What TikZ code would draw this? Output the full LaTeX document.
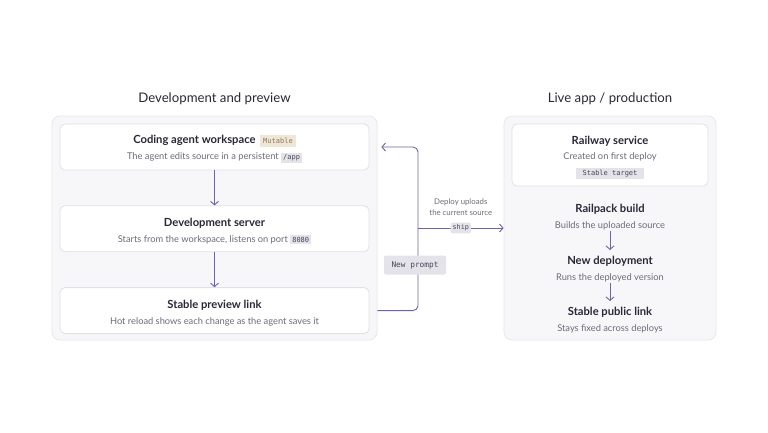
\documentclass[tikz,border=0pt]{standalone}
\usepackage{fontspec}
\setmainfont{Lato}
\setmonofont{DejaVu Sans Mono}
\usepackage{tikz}
\usetikzlibrary{arrows.meta, positioning, calc}
\definecolor{flowpurple}{RGB}{114,96,170}
\definecolor{inktext}{RGB}{40,40,55}
\definecolor{mutedtext}{RGB}{108,108,120}
\definecolor{panelfill}{RGB}{247,247,250}
\definecolor{panelline}{RGB}{230,230,236}
\definecolor{cardline}{RGB}{224,224,230}
\definecolor{codefill}{RGB}{228,227,234}
\definecolor{codetext}{RGB}{70,70,88}
\definecolor{mutfill}{RGB}{239,230,214}
\definecolor{muttext}{RGB}{140,120,90}

\newcommand{\cardtitle}[1]{{\rule{0pt}{13pt}\bfseries\fontsize{11.2}{12}\selectfont\color{inktext}#1}}
\newcommand{\cardsub}[1]{{\fontsize{9.3}{12}\selectfont\color{mutedtext}#1}}
\newcommand{\codechip}[1]{{\setlength{\fboxsep}{2pt}\colorbox{codefill}{\ttfamily\fontsize{7}{7}\selectfont\color{codetext}#1}}}
\newcommand{\mutechip}[1]{{\setlength{\fboxsep}{3pt}\colorbox{mutfill}{\ttfamily\fontsize{7}{7}\selectfont\color{muttext}#1}}}

\begin{document}
\begin{tikzpicture}[x=1pt, y=-1pt,
        panel/.style={draw=panelline, fill=panelfill, rounded corners=8pt, line width=0.8pt},
        card/.style={draw=cardline, fill=white, rounded corners=5pt, line width=0.8pt, align=center, minimum width=309pt, minimum height=46pt, inner sep=0pt, font=\fontsize{9.3}{12}\selectfont},
        stepnode/.style={align=center, inner sep=1pt, font=\fontsize{9.3}{12}\selectfont},
        heading/.style={font=\fontsize{13.2}{15}\selectfont, text=inktext},
        chip/.style={fill=codefill, rounded corners=2pt, font=\ttfamily\fontsize{6.8}{8}\selectfont, text=codetext, inner sep=2.5pt},
        arrow/.style={-{Straight Barb[length=3.5pt, width=8pt]}, line width=0.9pt, flowpurple}
    ]
    \useasboundingbox (0,0) rectangle (768,432);

    \node[panel, minimum width=325pt, minimum height=224pt] (devbox) at (214.5,228) {};
    \node[panel, minimum width=212pt, minimum height=224pt] (livebox) at (610,228) {};
    \node[heading] (devtitle) at (214.5,99) {Development and preview};
    \node[heading] (livetitle) at (610,99) {Live app / production};

    \node[card] (workspace) at (214.5,147) {\cardtitle{Coding agent workspace}\ \ \mutechip{Mutable}\\[4pt] \cardsub{The agent edits source in a persistent \codechip{/app}}};
    \node[card, below=35pt of workspace] (devserver) {\cardtitle{Development server}\\[4pt] \cardsub{Starts from the workspace, listens on port \codechip{8080}}};
    \node[card, below=35pt of devserver] (preview) {\cardtitle{Stable preview link}\\[4pt] \cardsub{Hot reload shows each change as the agent saves it}};

    \node[card, minimum width=196pt, minimum height=62pt] (railway) at (610,155) {\cardtitle{Railway service}\\[3pt] \cardsub{Created on first deploy}\\[4pt] \codechip{\ Stable target\ }};
    \node[stepnode] (build) at (610,214.5) {\cardtitle{Railpack build}\\[4pt] \cardsub{Builds the uploaded source}};
    \node[stepnode] (deploy) at (610,266.5) {\cardtitle{New deployment}\\[4pt] \cardsub{Runs the deployed version}};
    \node[stepnode] (publink) at (610,317.5) {\cardtitle{Stable public link}\\[4pt] \cardsub{Stays fixed across deploys}};

    \draw[arrow] (workspace) -- (devserver);
    \draw[arrow] (devserver) -- (preview);
    \draw[arrow] (build) -- (deploy);
    \draw[arrow] (deploy) -- (publink);

    % Loop arrow
    \coordinate (spine) at (418,228);
    \draw[arrow, rounded corners=5pt] (devbox.east |- preview) -| (spine |- workspace) -- ([xshift=4pt]devbox.east |- workspace);
    \node[chip, font=\ttfamily\fontsize{7.8}{9}\selectfont, minimum width=62pt, minimum height=19pt] (prompt) at (415,265) {New prompt};

    \draw[arrow] (spine) -- (livebox.west |- spine) node[midway, chip, inner sep=2pt] (ship) {ship};
    \node[stepnode, above=6pt of ship, text=mutedtext, font=\fontsize{7.8}{11}\selectfont] (deploynote) {Deploy uploads\\the current source};

    \end{tikzpicture}
\end{document}
